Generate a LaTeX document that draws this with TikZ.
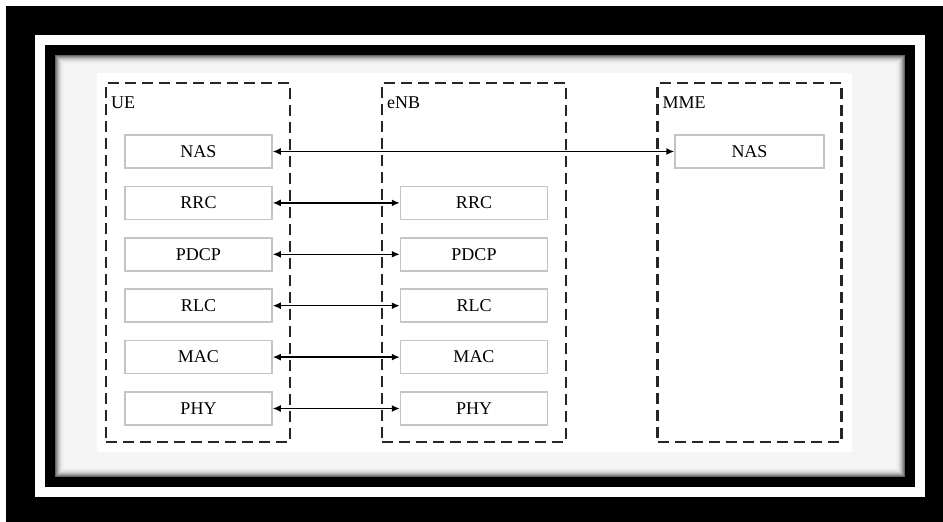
\documentclass[tikz,border=0pt]{standalone}
\usepackage{fontspec}
\setmainfont{Liberation Serif}
\usetikzlibrary{arrows.meta}
\definecolor{boxgray}{HTML}{C4C4C4}
\definecolor{panel}{HTML}{F5F5F5}
\tikzset{
  layerbox/.style={draw=boxgray, line width=1.5pt, fill=white, minimum width=147pt, minimum height=33pt, inner sep=0pt, font=\fontsize{18}{20}\selectfont},
  container/.style={draw=black!85, line width=2.2pt, dash pattern=on 11pt off 6pt, minimum width=184pt, minimum height=359pt, inner sep=0pt},
  ctitle/.style={anchor=base west, inner sep=0pt, font=\fontsize{18}{20}\selectfont},
  link/.style={line width=1.5pt, black, {Latex[length=8pt,width=7pt]}-{Latex[length=8pt,width=7pt]}}
}
\begin{document}
\begin{tikzpicture}[x=1pt,y=-1pt]
\useasboundingbox (0,0) rectangle (943,522);
% background and frames
\fill[black] (0,0) rectangle (943,522);
\fill[white] (0,0) rectangle (943,6);
\fill[white] (0,0) rectangle (6,522);
\fill[white] (35,35) rectangle (925,497);
\fill[black] (45,45) rectangle (915,487);
\fill[panel] (55,55) rectangle (905,477);
\fill[white] (97,73) rectangle (852,452);
% inner shadow
\foreach \i/\c in {0/40,1/52,2/63,3/72,4/80,5/86,6/90,7/93,8/95}{
  \draw[color=white!\c!black, line width=1pt] ({55.5+\i},{55.5+\i}) rectangle ({904.5-\i},{476.5-\i});
}
% containers
\node[container] (ue)  at (198,262.5) {};
\node[container] (enb) at (474,262.5) {};
\node[container] (mme) at (749.5,262.5) {};
\node[ctitle] (uet)  at ([shift={(6,27)}]ue.north west)  {UE};
\node[ctitle] (enbt) at ([shift={(6,27)}]enb.north west) {eNB};
\node[ctitle] (mmet) at ([shift={(6,27)}]mme.north west) {MME};
% UE layers
\node[layerbox] (uenas)  at (198.5,151.5) {NAS};
\node[layerbox] (uerrc)  at (198.5,202.9) {RRC};
\node[layerbox] (uepdcp) at (198.5,254.3) {PDCP};
\node[layerbox] (uerlc)  at (198.5,305.7) {RLC};
\node[layerbox] (uemac)  at (198.5,357.1) {MAC};
\node[layerbox] (uephy)  at (198.5,408.5) {PHY};
% eNB layers
\node[layerbox] (enbrrc)  at (474,202.9) {RRC};
\node[layerbox] (enbpdcp) at (474,254.3) {PDCP};
\node[layerbox] (enbrlc)  at (474,305.7) {RLC};
\node[layerbox] (enbmac)  at (474,357.1) {MAC};
\node[layerbox] (enbphy)  at (474,408.5) {PHY};
% MME layer
\node[layerbox, minimum width=149pt] (mmenas) at (749.5,151.5) {NAS};
% peer links
\draw[link] (uenas.east) -- (mmenas.west);
\draw[link] (uerrc.east) -- (enbrrc.west);
\draw[link] (uepdcp.east) -- (enbpdcp.west);
\draw[link] (uerlc.east) -- (enbrlc.west);
\draw[link] (uemac.east) -- (enbmac.west);
\draw[link] (uephy.east) -- (enbphy.west);
\end{tikzpicture}
\end{document}
